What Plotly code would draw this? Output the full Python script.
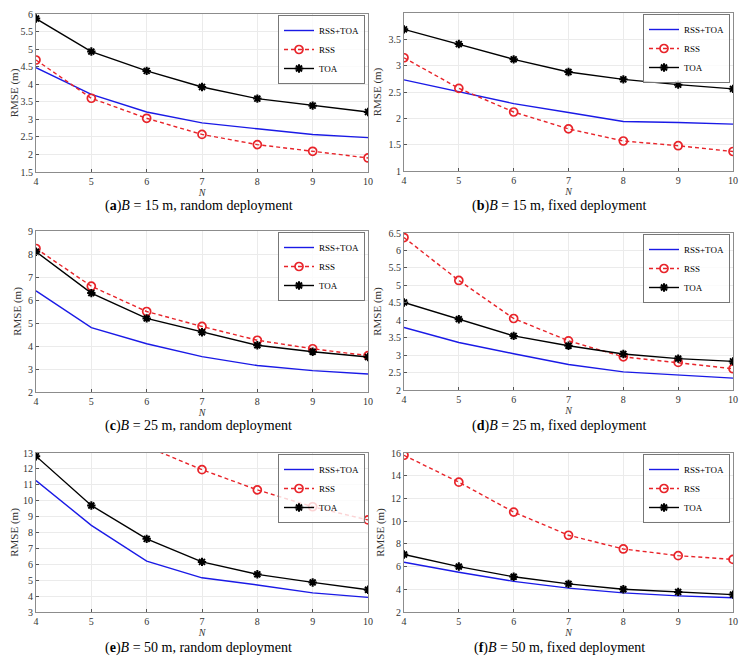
import plotly.graph_objects as go
from plotly.subplots import make_subplots

# anchor counts (x axis of every panel)
N = [4, 5, 6, 7, 8, 9, 10]

# RMSE (m)
a_fused = [4.47, 3.71, 3.21, 2.90, 2.73, 2.57, 2.48]
a_rss = [4.69, 3.60, 3.03, 2.57, 2.28, 2.09, 1.90]
a_toa = [5.87, 4.93, 4.38, 3.92, 3.59, 3.39, 3.21]

b_fused = [2.73, 2.50, 2.28, 2.11, 1.94, 1.92, 1.89]
b_rss = [3.15, 2.57, 2.12, 1.80, 1.57, 1.48, 1.37]
b_toa = [3.69, 3.41, 3.12, 2.88, 2.74, 2.64, 2.56]

c_fused = [6.40, 4.80, 4.10, 3.54, 3.15, 2.93, 2.78]
c_rss = [8.24, 6.60, 5.50, 4.85, 4.25, 3.88, 3.58]
c_toa = [8.10, 6.30, 5.20, 4.60, 4.03, 3.75, 3.52]

d_fused = [3.79, 3.36, 3.04, 2.73, 2.52, 2.44, 2.34]
d_rss = [6.37, 5.14, 4.05, 3.41, 2.95, 2.79, 2.61]
d_toa = [4.51, 4.03, 3.55, 3.27, 3.03, 2.90, 2.82]

e_fused = [11.27, 8.45, 6.20, 5.15, 4.70, 4.20, 3.92]
e_rss = [18.0, 15.3, 13.4, 11.95, 10.68, 9.62, 8.79]  # first three off the top of the axis
e_toa = [12.80, 9.70, 7.60, 6.15, 5.37, 4.86, 4.40]

f_fused = [6.38, 5.50, 4.70, 4.10, 3.68, 3.42, 3.25]
f_rss = [15.80, 13.43, 10.80, 8.76, 7.55, 6.96, 6.63]
f_toa = [7.06, 6.00, 5.10, 4.48, 4.00, 3.77, 3.53]

panels = [
    (a_fused, a_rss, a_toa),
    (b_fused, b_rss, b_toa),
    (c_fused, c_rss, c_toa),
    (d_fused, d_rss, d_toa),
    (e_fused, e_rss, e_toa),
    (f_fused, f_rss, f_toa),
]
letters = ['a', 'b', 'c', 'd', 'e', 'f']
widths = [15, 15, 25, 25, 50, 50]
layouts = ['random', 'fixed'] * 3
y_ranges = [[1.5, 6], [1, 4], [2, 9], [2, 6.5], [3, 13], [2, 16]]
y_steps = [0.5, 0.5, 1, 0.5, 1, 2]

# the page puts the plot 8px in from the top-left corner
OFF = 8
W, H = 748 - OFF, 665 - OFF
# pixel boxes of the panels in the reference (left, right, top, bottom)
boxes = [
    (36, 368, 14, 172), (404, 733, 13, 171),
    (36, 368, 231, 392), (404, 733, 233, 390),
    (36, 368, 453, 612), (404, 733, 453, 612),
]
caption_y = [206, 206, 426, 426, 648, 648]
caption_x = [199, 559] * 3

SERIF = 'Liberation Serif'
BLUE = '#1a1ae6'
RED = '#e8242a'

fig = make_subplots(rows=3, cols=2)

for k, (fused, rss, toa) in enumerate(panels):
    row, col = k // 2 + 1, k % 2 + 1
    leg = 'legend' if k == 0 else 'legend%d' % (k + 1)
    fig.add_trace(go.Scatter(x=N, y=fused, name='RSS+TOA', mode='lines',
                             line=dict(color=BLUE, width=1.4), legend=leg),
                  row=row, col=col)
    fig.add_trace(go.Scatter(x=N, y=rss, name='RSS', mode='lines+markers',
                             line=dict(color=RED, width=1.4, dash='4px,3px'),
                             marker=dict(symbol='circle-open', size=8, color=RED,
                                         line=dict(width=1.7)),
                             legend=leg),
                  row=row, col=col)
    fig.add_trace(go.Scatter(x=N, y=toa, name='TOA', mode='lines+markers',
                             line=dict(color='black', width=1.4),
                             marker=dict(symbol='asterisk-open', size=7, color='black',
                                         line=dict(width=2, color='black')),
                             legend=leg),
                  row=row, col=col)

    l, r, t, b = [v - OFF for v in boxes[k]]
    sfx = '' if k == 0 else str(k + 1)
    fig.layout['xaxis' + sfx].update(
        domain=[l / W, r / W], range=[4, 10], dtick=1, tick0=4,
        showgrid=True, gridcolor='#ebebeb', zeroline=False,
        showline=True, mirror=True, linecolor='#8c8c8c', linewidth=1,
        ticks='inside', ticklen=3, tickcolor='#555',
        tickfont=dict(family=SERIF, size=10, color='#333'),
        title=dict(text='<i>N</i>', font=dict(family=SERIF, size=10, color='#333'),
                   standoff=0),
        automargin=False)
    fig.layout['yaxis' + sfx].update(
        domain=[1 - b / H, 1 - t / H], range=y_ranges[k], dtick=y_steps[k],
        tick0=y_ranges[k][0],
        showgrid=True, gridcolor='#ebebeb', zeroline=False,
        showline=True, mirror=True, linecolor='#8c8c8c', linewidth=1,
        ticks='inside', ticklen=3, tickcolor='#555',
        tickfont=dict(family=SERIF, size=10, color='#333'),
        title=dict(text='RMSE (m)', font=dict(family=SERIF, size=11, color='#333'),
                   standoff=4),
        automargin=False)

    # legend box is taller than MATLAB's, so let the curves show through a bit
    fig.layout[leg] = dict(
        x=(r - 3) / W, y=1 - (t + 1) / H, xanchor='right', yanchor='top',
        bgcolor='rgba(255,255,255,0.8)', bordercolor='#777', borderwidth=1,
        font=dict(family=SERIF, size=9, color='black'),
        tracegroupgap=0, itemwidth=30)

    fig.add_annotation(
        text='(<b>%s</b>)<i>B</i> = %d m, %s deployment' % (letters[k], widths[k], layouts[k]),
        x=(caption_x[k] - OFF) / W, y=1 - (caption_y[k] - OFF) / H,
        xref='paper', yref='paper',
        xanchor='center', yanchor='middle', showarrow=False,
        font=dict(family=SERIF, size=14, color='black'))

fig.update_layout(
    width=W, height=H, margin=dict(l=0, r=0, t=0, b=0),
    paper_bgcolor='white', plot_bgcolor='white', showlegend=True)

fig.write_html("out.html")
